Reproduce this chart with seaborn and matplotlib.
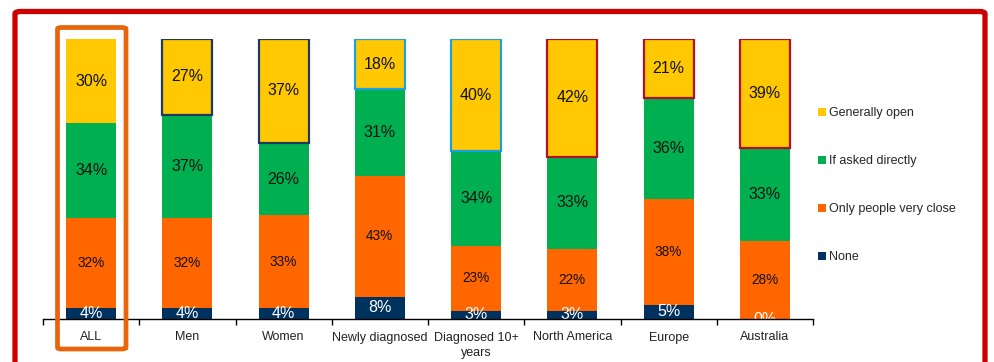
import numpy as np
import pandas as pd
import matplotlib
matplotlib.use("Agg")
import matplotlib.pyplot as plt
from matplotlib.patches import FancyBboxPatch, Patch
import seaborn as sns

# Survey groups and share of each answer (percent)
categories = ["ALL", "Men", "Women", "Newly diagnosed", "Diagnosed 10+\nyears",
              "North America", "Europe", "Australia"]
generally_open = [30, 27, 37, 18, 40, 42, 21, 39]
if_asked = [34, 37, 26, 31, 34, 33, 36, 33]
only_close = [32, 32, 33, 43, 23, 22, 38, 28]
none = [4, 4, 4, 8, 3, 3, 5, 0]
series_names = ["Generally open", "If asked directly", "Only people very close", "None"]

YELLOW, GREEN, ORANGE, NAVY = "#FFC800", "#00B050", "#FF6600", "#00325F"
outline_colors = [None, "#1F3A60", "#1F3A60", "#1BA1E2", "#1BA1E2",
                  "#B0102A", "#B0102A", "#B0102A"]

sns.set_theme(style="white")
plt.rcParams["font.family"] = ["Liberation Sans", "DejaVu Sans"]

W, H = 994, 362
fig = plt.figure(figsize=(W / 100, H / 100), dpi=100)
ax = fig.add_axes([43 / W, 1 - 319 / H, (813 - 43) / W, (319 - 39) / H])

df = pd.DataFrame({"group": categories, "open": generally_open, "asked": if_asked,
                   "close": only_close, "none": none})
df["c1"] = df["none"]
df["c2"] = df["c1"] + df["close"]
df["c3"] = df["c2"] + df["asked"]
df["c4"] = df["c3"] + df["open"]

bw = 0.52
for col, color in [("c4", YELLOW), ("c3", GREEN), ("c2", ORANGE), ("c1", NAVY)]:
    sns.barplot(data=df, x="group", y=col, order=categories, color=color,
                width=bw, saturation=1, linewidth=0, ax=ax, zorder=2)

x = np.arange(len(categories))
for i, ec in enumerate(outline_colors):
    if ec is not None:
        ax.bar(x[i], df["open"][i], bottom=df["c3"][i], width=bw, fill=False,
               edgecolor=ec, linewidth=1.6, zorder=3)

# Segment labels
for i in range(len(categories)):
    ax.text(x[i], df["c3"][i] + df["open"][i] / 2, f"{df['open'][i]}%", ha="center",
            va="center", fontsize=11.5, color="#111111", zorder=4, clip_on=True)
    ax.text(x[i], df["c2"][i] + df["asked"][i] / 2, f"{df['asked'][i]}%", ha="center",
            va="center", fontsize=11.5, color="#111111", zorder=4, clip_on=True)
    ax.text(x[i], df["c1"][i] + df["close"][i] / 2, f"{df['close'][i]}%", ha="center",
            va="center", fontsize=9.8, color="#111111", zorder=4, clip_on=True)
    ax.text(x[i], df["none"][i] / 2, f"{df['none'][i]}%", ha="center",
            va="center", fontsize=11.5, color="white", zorder=4, clip_on=True)

ax.set_xlim(-0.5, len(categories) - 0.5)
ax.set_ylim(0, 100)
ax.set_xlabel("")
ax.set_ylabel("")
ax.set_yticks([])
for s in ["left", "right", "top"]:
    ax.spines[s].set_visible(False)
ax.spines["bottom"].set_color("black")
ax.spines["bottom"].set_linewidth(1.0)
ax.spines["bottom"].set_zorder(5)

ax.set_xticks(np.arange(-0.5, len(categories), 1.0))
ax.set_xticklabels([])
ax.set_xticks(x, minor=True)
ax.set_xticklabels(categories, minor=True, fontsize=9, color="#222222",
                   linespacing=1.35)
ax.tick_params(axis="x", which="major", direction="out", length=4, width=1,
               color="black", bottom=True)
ax.tick_params(axis="x", which="minor", length=0, pad=9)

handles = [Patch(facecolor=c, edgecolor="none") for c in [YELLOW, GREEN, ORANGE, NAVY]]
fig.legend(handles, series_names, loc="upper left",
           bbox_to_anchor=(818 / W, 1 - 107 / H), frameon=False, fontsize=9,
           handlelength=0.6, handleheight=0.6, handletextpad=0.3,
           labelspacing=2.88, borderaxespad=0, borderpad=0)

# Outer red frame and highlight around the overall bar
frame = FancyBboxPatch((15 / W, -0.1), (985 - 15) / W, 1 - 11.5 / H + 0.1,
                       boxstyle="round,pad=0,rounding_size=0.006",
                       transform=fig.transFigure, fill=False,
                       edgecolor="#CC0000", linewidth=3.8, zorder=10)
fig.add_artist(frame)
hl = FancyBboxPatch((57.5 / W, 1 - 349 / H), (126 - 57.5) / W, (349 - 27.5) / H,
                    boxstyle="round,pad=0,rounding_size=0.004",
                    transform=fig.transFigure, fill=False,
                    edgecolor="#E8650C", linewidth=3.4, zorder=10)
fig.add_artist(hl)

fig.savefig("out.png", dpi=100)
